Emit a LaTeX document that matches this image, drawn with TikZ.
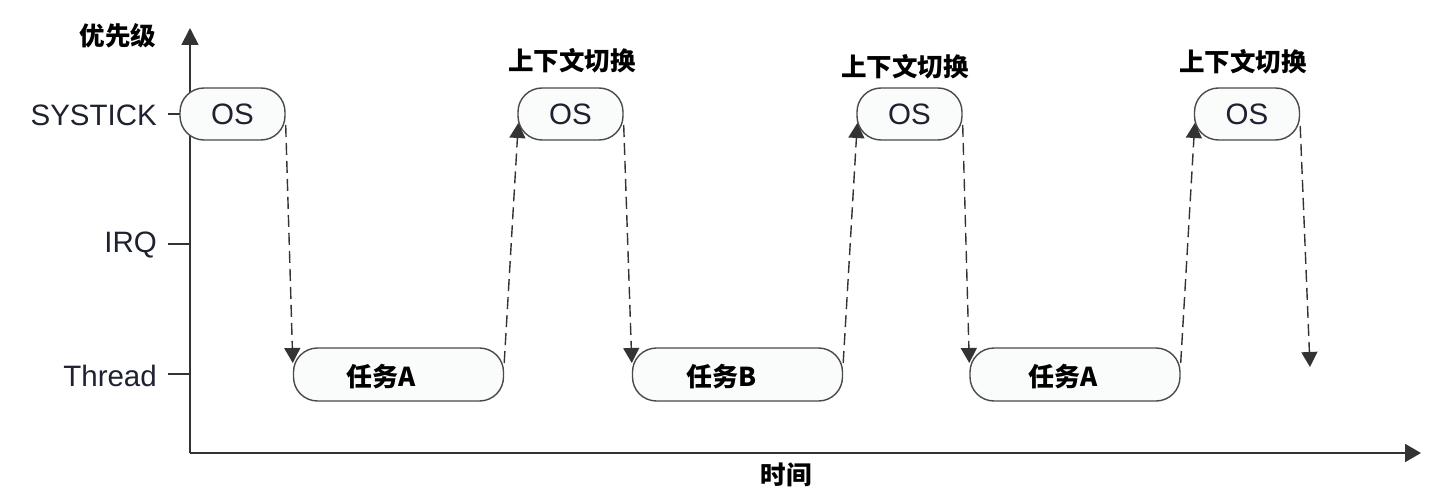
\documentclass[tikz,border=0pt]{standalone}
\usepackage{fontspec}
\setmainfont{Liberation Sans}
\newfontfamily\cjk{Noto Sans CJK SC}
\usetikzlibrary{arrows.meta}
\definecolor{inkc}{HTML}{1E2230}
\definecolor{linec}{HTML}{333333}
\definecolor{boxline}{HTML}{4A4A4A}
\definecolor{boxfill}{HTML}{FAFBFB}
\tikzset{
  axisline/.style={line width=1.8pt, draw=linec},
  ticklne/.style={line width=1.5pt, draw=linec},
  osbox/.style={draw=boxline, fill=boxfill, line width=1.4pt, rounded corners=24pt,
    minimum width=105pt, minimum height=52pt, inner sep=0pt,
    font=\fontsize{29.5}{33}\selectfont, text=inkc},
  taskbox/.style={draw=boxline, fill=boxfill, line width=1.4pt, rounded corners=24pt,
    minimum width=210pt, minimum height=53pt, inner sep=0pt},
  tasktext/.style={font=\cjk\bfseries\fontsize{26}{30}\selectfont, text=black, inner sep=0pt},
  cjklabel/.style={font=\cjk\bfseries\fontsize{25.5}{30}\selectfont, text=black, inner sep=0pt},
  lvllabel/.style={font=\fontsize{29.5}{33}\selectfont, text=inkc, anchor=east, inner sep=0pt},
  dasharr/.style={line width=1.4pt, draw=linec, dash pattern=on 12pt off 6pt,
    -{Triangle[length=15pt,width=16pt]}},
}
\begin{document}
\begin{tikzpicture}[x=1pt,y=-1pt]
\useasboundingbox (0,0) rectangle (1456,500);
% axes
\coordinate (origin) at (190,453);
\coordinate (ytop) at (190,28);
\coordinate (xend) at (1421,453);
\draw[axisline, -{Triangle[length=17pt,width=17pt]}] (origin) -- (ytop);
\draw[axisline, -{Triangle[length=16pt,width=18pt]}] (origin) -- (xend);
\node[cjklabel] (ylab) at (118,36) {优先级};
\node[cjklabel] (xlab) at (786,475) {时间};
% level labels and ticks
\node[lvllabel] (lsys) at (157,115) {SYSTICK};
\node[lvllabel] (lirq) at (157,245) {IRQ};
\node[lvllabel] (lthr) at (157,376) {Thread};
\coordinate (tk1a) at (168,114); \coordinate (tk1b) at (190,114);
\coordinate (tk2a) at (168,244); \coordinate (tk2b) at (190,244);
\coordinate (tk3a) at (168,374); \coordinate (tk3b) at (190,374);
\draw[ticklne] (tk1a) -- (tk1b);
\draw[ticklne] (tk2a) -- (tk2b);
\draw[ticklne] (tk3a) -- (tk3b);
% OS boxes
\node[osbox] (os1) at (232.5,114) {OS};
\node[osbox] (os2) at (570.5,114) {OS};
\node[osbox] (os3) at (909.5,114) {OS};
\node[osbox] (os4) at (1247,114) {OS};
% context switch labels
\node[cjklabel] (cs2) at (572,61) {上下文切换};
\node[cjklabel] (cs3) at (905,67) {上下文切换};
\node[cjklabel] (cs4) at (1243,62) {上下文切换};
% task boxes
\node[taskbox] (t1) at (398.5,374.5) {};
\node[taskbox] (t2) at (737.5,374.5) {};
\node[taskbox] (t3) at (1075,374.5) {};
\node[tasktext] (t1l) at ([xshift=-17pt,yshift=-2pt]t1.center) {任务A};
\node[tasktext] (t2l) at ([xshift=-16pt,yshift=-2pt]t2.center) {任务B};
\node[tasktext] (t3l) at ([xshift=-12pt,yshift=-2pt]t3.center) {任务A};
% dashed transitions
\coordinate (endp) at (1310,367);
\draw[dasharr] ([yshift=-11pt]os1.east) -- ([yshift=11.5pt]t1.west);
\draw[dasharr] ([yshift=11.5pt]t1.east) -- ([xshift=1pt,yshift=-9pt]os2.west);
\draw[dasharr] ([yshift=-11pt]os2.east) -- ([yshift=11.5pt]t2.west);
\draw[dasharr] ([yshift=11.5pt]t2.east) -- ([xshift=1pt,yshift=-9pt]os3.west);
\draw[dasharr] ([yshift=-11pt]os3.east) -- ([yshift=11.5pt]t3.west);
\draw[dasharr] ([yshift=11.5pt]t3.east) -- ([xshift=1pt,yshift=-9pt]os4.west);
\draw[dasharr] ([yshift=-12pt]os4.east) -- (endp);
\end{tikzpicture}
\end{document}
